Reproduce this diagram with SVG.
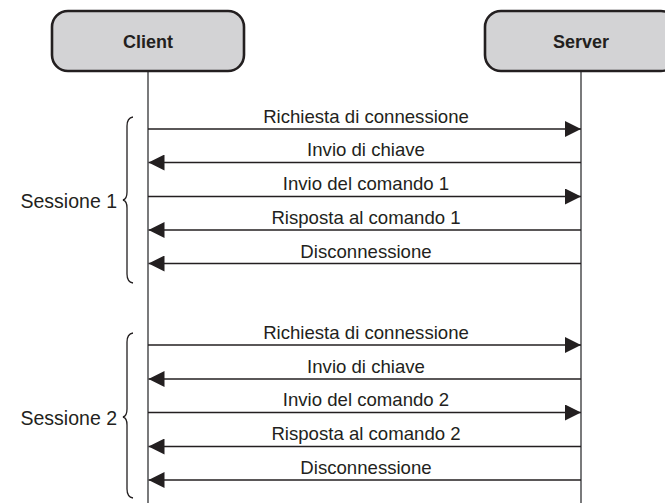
<svg xmlns="http://www.w3.org/2000/svg" width="665" height="503" viewBox="0 0 665 503">
<style>
.box{fill:#d3d3d5;stroke:#231f20;stroke-width:2.6}
.hdr{font-family:"Liberation Sans",Arial,sans-serif;font-weight:bold;font-size:18px;fill:#231f20;text-anchor:middle}
.life{stroke:#58595b;stroke-width:1.6;fill:none}
.msg{stroke:#231f20;stroke-width:1.3;fill:none}
.to{marker-end:url(#ah)}
.lbl{font-family:"Liberation Sans",Arial,sans-serif;font-size:18.6px;fill:#231f20;text-anchor:middle}
.ses{font-family:"Liberation Sans",Arial,sans-serif;font-size:19.5px;fill:#231f20;text-anchor:end}
.brace{stroke:#231f20;stroke-width:1.3;fill:none}
</style>
<defs>
<marker id="ah" markerWidth="16" markerHeight="16" refX="16" refY="8" orient="auto" markerUnits="userSpaceOnUse">
<path d="M0,0 L16,8 L0,16 Z" fill="#231f20"/>
</marker>
</defs>
<g id="lifelines">
<line class="life" x1="148" y1="71" x2="148" y2="503"/>
<line class="life" x1="581" y1="71" x2="581" y2="503"/>
</g>
<g id="client">
<rect class="box" x="52" y="11" width="192" height="60" rx="16" ry="16"/>
<text class="hdr" x="148" y="47.5">Client</text>
</g>
<g id="server">
<rect class="box" x="485" y="11" width="192" height="60" rx="16" ry="16"/>
<text class="hdr" x="581" y="47.5">Server</text>
</g>
<g id="connectors">
<line class="msg to" x1="148" y1="129" x2="581" y2="129"/>
<line class="msg to" x1="581" y1="162.5" x2="148.5" y2="162.5"/>
<line class="msg to" x1="148" y1="196.5" x2="581" y2="196.5"/>
<line class="msg to" x1="581" y1="230" x2="148.5" y2="230"/>
<line class="msg to" x1="581" y1="263.5" x2="148.5" y2="263.5"/>
<line class="msg to" x1="148" y1="345" x2="581" y2="345"/>
<line class="msg to" x1="581" y1="379" x2="148.5" y2="379"/>
<line class="msg to" x1="148" y1="412.5" x2="581" y2="412.5"/>
<line class="msg to" x1="581" y1="446.5" x2="148.5" y2="446.5"/>
<line class="msg to" x1="581" y1="480" x2="148.5" y2="480"/>
</g>
<g id="labels">
<text class="lbl" x="366" y="122.5">Richiesta di connessione</text>
<text class="lbl" x="366" y="156">Invio di chiave</text>
<text class="lbl" x="366" y="190">Invio del comando 1</text>
<text class="lbl" x="366" y="223.5">Risposta al comando 1</text>
<text class="lbl" x="366" y="257.5">Disconnessione</text>
<text class="lbl" x="366" y="338.5">Richiesta di connessione</text>
<text class="lbl" x="366" y="372.5">Invio di chiave</text>
<text class="lbl" x="366" y="406">Invio del comando 2</text>
<text class="lbl" x="366" y="440">Risposta al comando 2</text>
<text class="lbl" x="366" y="473.5">Disconnessione</text>
</g>
<g id="session1">
<path class="brace" d="M133,117 Q127,118 127,126 L127,192 Q127,199 123,200 Q127,201 127,208 L127,274 Q127,282 133,283"/>
<text class="ses" x="117" y="208">Sessione 1</text>
</g>
<g id="session2">
<path class="brace" d="M133,333 Q127,334 127,342 L127,409 Q127,416 123,417 Q127,418 127,425 L127,489 Q127,497 133,498"/>
<text class="ses" x="117" y="425">Sessione 2</text>
</g>
</svg>
